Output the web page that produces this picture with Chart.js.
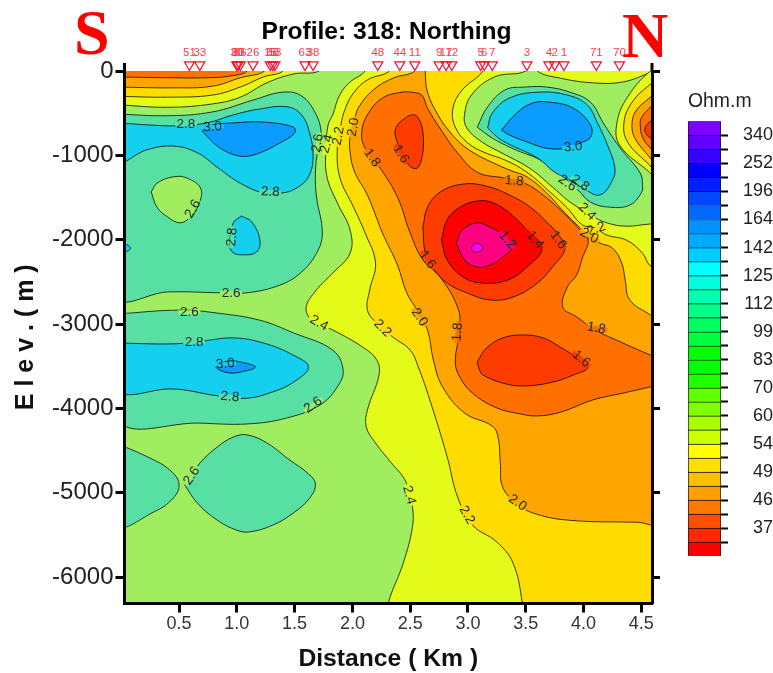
<!DOCTYPE html>
<html>
<head>
<meta charset="utf-8">
<title>Profile: 318: Northing</title>
<script src="https://cdn.jsdelivr.net/npm/chart.js@4/dist/chart.umd.min.js"></script>
<style>
html, body { margin: 0; padding: 0; background: #fff; overflow: hidden; }
#myChart { position: absolute; left: 0; top: 0; }
#scaleChart { position: absolute; left: 688px; top: 85px; }
.side { position: absolute; color: #f00; font: bold 64px/64px "Liberation Serif", serif; }
</style>
</head>
<body>
<canvas id="myChart" width="773" height="673"></canvas>
<canvas id="scaleChart" width="85" height="495"></canvas>
<div class="side" style="left:74px;top:1px">S</div>
<div class="side" style="left:622px;top:4px">N</div>
<script>
// Axis ticks
var xTicks = [0.5, 1.0, 1.5, 2.0, 2.5, 3.0, 3.5, 4.0, 4.5];
var yTicks = [0, -1000, -2000, -3000, -4000, -5000, -6000];

// Stations along the top of the section
var stationX = [0.59, 0.68, 1.00, 1.01, 1.03, 1.14, 1.29, 1.31, 1.33, 1.59, 1.66, 2.22, 2.41, 2.54, 2.75, 2.81, 2.86, 3.11, 3.14, 3.21, 3.51, 3.70, 3.75, 3.83, 4.11, 4.31];
var stationNames = ['51', '33', '30', '80', '86', '26', '15', '68', '53', '63', '38', '48', '44', '11', '9', '17', '12', '5', '6', '7', '3', '4', '2', '1', '71', '70'];

// Band colours, log10 resistivity
var c10 = '#ff00ff', c12 = '#ff0080', c14 = '#ff0000', c16 = '#ff3c00', c18 = '#ff7000', c20 = '#ffa500';
var c22 = '#ffdc00', c24 = '#e4fa18', c26 = '#a0ee60', c28 = '#58dfa4', c30 = '#15cfee', c32 = '#0a9cff';

// Contour outlines as [distance km, elevation m]
var wholeSection = [[-0.1, 100], [4.8, 100], [4.8, -6600], [-0.1, -6600]];

// left side highs
var high26Upper = [[-0.03,-510],[0.40,-530],[0.79,-485],[1.14,-345],[1.40,-250],[1.56,-295],[1.68,-500],[1.73,-735],[1.70,-935],[1.68,-1210],[1.69,-1495],[1.74,-1920],[1.69,-2160],[1.55,-2395],[1.37,-2540],[1.09,-2630],[0.88,-2630],[0.40,-2620],[-0.03,-2670]];
var high28Upper = [[-0.03,-615],[0.25,-640],[0.48,-650],[0.74,-615],[0.97,-520],[1.20,-450],[1.44,-425],[1.56,-520],[1.63,-735],[1.66,-1020],[1.62,-1255],[1.52,-1385],[1.40,-1445],[1.23,-1445],[1.03,-1330],[0.83,-1140],[0.66,-970],[0.45,-890],[0.22,-935],[-0.03,-1080]];
var high30Upper = [[0.70,-710],[0.79,-640],[0.97,-615],[1.23,-605],[1.49,-665],[1.50,-735],[1.37,-855],[1.17,-985],[1.03,-1010],[0.88,-935],[0.79,-840]];
var hole26 = [[0.26,-1435],[0.31,-1330],[0.45,-1255],[0.57,-1270],[0.69,-1400],[0.66,-1615],[0.60,-1730],[0.51,-1800],[0.40,-1730],[0.31,-1615]];
var island28 = [[1.04,-1720],[1.13,-1790],[1.20,-2005],[1.17,-2145],[1.05,-2180],[0.96,-2145],[0.94,-2040],[0.97,-1800]];
var edge28 = [[-0.03,-2030],[0.03,-2045],[0.08,-2100],[0.03,-2150],[-0.03,-2160]];
var high26Middle = [[-0.03,-2880],[0.51,-2835],[0.83,-2870],[1.20,-2955],[1.49,-3105],[1.83,-3310],[1.92,-3545],[1.87,-3745],[1.72,-3960],[1.43,-4115],[1.09,-4185],[0.68,-4175],[-0.03,-4140]];
var high28Middle = [[-0.03,-3225],[0.45,-3235],[0.71,-3200],[0.97,-3165],[1.23,-3225],[1.49,-3370],[1.62,-3510],[1.49,-3690],[1.31,-3805],[1.09,-3880],[0.85,-3855],[0.45,-3770],[-0.03,-3795]];
var high30Middle = [[0.81,-3500],[0.92,-3440],[1.03,-3450],[1.16,-3510],[1.03,-3570],[0.94,-3580],[0.85,-3545]];
var high26EdgeLow = [[-0.03,-4420],[0.25,-4590],[0.42,-4730],[0.50,-4895],[0.45,-5065],[0.28,-5230],[-0.03,-5385]];
var high26Low = [[0.55,-4910],[0.68,-4650],[0.83,-4460],[0.97,-4340],[1.09,-4315],[1.26,-4410],[1.46,-4615],[1.61,-4765],[1.68,-4895],[1.63,-5065],[1.49,-5240],[1.31,-5385],[1.11,-5465],[1.00,-5445],[0.83,-5325],[0.66,-5125]];

// shallow strip at top left
var strip24 = [[-0.03,-400],[0.40,-430],[0.79,-390],[1.03,-310],[1.26,-140],[1.49,-35],[1.71,0],[1.71,130],[-0.03,130]];
var strip22 = [[-0.03,-300],[0.40,-310],[0.79,-285],[1.03,-190],[1.23,-70],[1.40,0],[1.40,130],[-0.03,130]];
var strip20 = [[-0.03,-190],[0.45,-200],[0.79,-180],[1.03,-80],[1.24,0],[1.24,130],[-0.03,130]];
var strip18 = [[-0.03,-70],[0.40,-80],[0.74,-80],[0.94,-60],[1.09,0],[1.09,130],[-0.03,130]];

// main low
var low24 = [[2.11,130],[2.11,0],[1.98,-130],[1.89,-285],[1.83,-520],[1.79,-640],[1.77,-935],[1.78,-1255],[1.87,-1565],[1.98,-1885],[1.98,-2160],[1.83,-2395],[1.69,-2595],[1.60,-2800],[1.65,-2955],[1.83,-3070],[2.09,-3275],[2.21,-3425],[2.23,-3605],[2.13,-4020],[2.12,-4220],[2.20,-4410],[2.33,-4635],[2.44,-4815],[2.48,-4935],[2.52,-5170],[2.52,-5405],[2.44,-5835],[2.31,-6310],[2.30,-6520],[4.70,-6520],[4.70,-1815],[4.57,-1815],[4.37,-1840],[4.20,-1800],[4.06,-1710],[3.95,-1615],[3.86,-1530],[3.73,-1375],[3.53,-1150],[3.29,-970],[3.12,-840],[2.99,-675],[2.97,-520],[3.03,-285],[3.23,-70],[3.50,0],[3.50,130]];
var low22 = [[2.32,130],[2.32,0],[2.13,-105],[2.01,-260],[1.94,-440],[1.90,-640],[1.87,-900],[1.89,-1255],[2.01,-1615],[2.11,-1920],[2.20,-2275],[2.15,-2595],[2.13,-2835],[2.21,-2990],[2.35,-3155],[2.50,-3310],[2.57,-3510],[2.67,-3900],[2.82,-4575],[2.91,-5050],[3.04,-5385],[3.25,-5585],[3.39,-5835],[3.47,-6310],[3.47,-6520],[4.70,-6520],[4.70,-2420],[4.57,-2300],[4.51,-2160],[4.37,-2005],[4.20,-1945],[4.10,-1860],[3.99,-1825],[3.86,-1625],[3.71,-1435],[3.51,-1200],[3.32,-1055],[3.15,-970],[3.00,-855],[2.89,-665],[2.87,-440],[2.95,-225],[3.13,0],[3.13,130]];
var low20 = [[2.54,130],[2.54,0],[2.35,-85],[2.18,-225],[2.05,-440],[2.02,-580],[1.98,-785],[1.98,-960],[2.02,-1200],[2.13,-1470],[2.26,-1920],[2.39,-2300],[2.47,-2630],[2.56,-2835],[2.65,-3070],[2.70,-3425],[2.78,-3745],[2.97,-4055],[3.21,-4210],[3.26,-4340],[3.28,-4650],[3.30,-4935],[3.42,-5125],[3.56,-5240],[3.86,-5325],[4.46,-5350],[4.70,-5350],[4.70,-3010],[4.58,-2895],[4.40,-2715],[4.36,-2480],[4.33,-2275],[4.25,-2100],[4.14,-2040],[4.06,-1980],[3.97,-1860],[3.84,-1685],[3.68,-1445],[3.51,-1255],[3.36,-1175],[3.22,-1090],[3.08,-995],[2.95,-875],[2.83,-700],[2.74,-520],[2.65,-250],[2.63,0],[2.63,130]];
var low18 = [[2.51,-250],[2.43,-250],[2.26,-320],[2.13,-520],[2.08,-735],[2.11,-915],[2.24,-1150],[2.39,-1495],[2.50,-1920],[2.61,-2240],[2.76,-2445],[2.91,-2800],[2.93,-3045],[2.89,-3450],[2.93,-3630],[3.04,-3820],[3.25,-3995],[3.45,-4065],[3.60,-4090],[3.80,-4045],[4.08,-3900],[4.34,-3820],[4.58,-3745],[4.70,-3710],[4.70,-3440],[4.58,-3370],[4.34,-3225],[4.10,-3070],[3.94,-2915],[3.82,-2800],[3.86,-2560],[3.94,-2420],[3.99,-2215],[4.04,-2005],[3.97,-1885],[3.80,-1650],[3.65,-1470],[3.49,-1330],[3.32,-1270],[3.08,-1200],[2.91,-970],[2.78,-725],[2.65,-440],[2.60,-285]];
var low16Upper = [[2.48,-535],[2.54,-520],[2.58,-580],[2.61,-725],[2.61,-960],[2.57,-1140],[2.52,-1150],[2.47,-1080],[2.43,-970],[2.37,-760],[2.39,-640]];
var low16Middle = [[2.61,-1850],[2.65,-1615],[2.76,-1435],[2.96,-1340],[3.16,-1365],[3.36,-1470],[3.54,-1615],[3.68,-1790],[3.77,-1920],[3.84,-2100],[3.73,-2325],[3.60,-2515],[3.39,-2680],[3.19,-2715],[2.99,-2630],[2.82,-2515],[2.69,-2325],[2.63,-2160]];
var low16Lower = [[3.08,-3450],[3.16,-3285],[3.30,-3165],[3.48,-3130],[3.65,-3165],[3.80,-3275],[3.91,-3370],[4.04,-3510],[3.91,-3605],[3.73,-3690],[3.48,-3735],[3.30,-3700],[3.13,-3605],[3.10,-3545]];
var low14 = [[2.77,-2005],[2.82,-1765],[2.93,-1615],[3.09,-1540],[3.22,-1565],[3.36,-1685],[3.51,-1885],[3.64,-2100],[3.51,-2325],[3.34,-2480],[3.13,-2515],[2.96,-2445],[2.82,-2240]];
var low12 = [[2.90,-2040],[2.95,-1885],[3.08,-1800],[3.19,-1850],[3.28,-1920],[3.39,-2065],[3.30,-2205],[3.19,-2300],[3.08,-2325],[2.97,-2240]];
var low10 = [[3.03,-2085],[3.08,-2040],[3.13,-2100],[3.09,-2145],[3.04,-2135]];

// top right sliver and the low on the right edge
var sliver24 = [[3.60,130],[3.60,0],[3.80,-85],[4.08,-140],[4.34,-130],[4.59,-10],[4.70,60],[4.70,130]];
var edge24 = [[4.70,60],[4.57,-10],[4.38,-310],[4.29,-605],[4.31,-875],[4.57,-1200],[4.70,-1365]];
var edge22 = [[4.70,-50],[4.57,-165],[4.42,-370],[4.35,-605],[4.38,-840],[4.57,-1115],[4.70,-1295]];
var edge20 = [[4.70,-170],[4.57,-320],[4.46,-460],[4.42,-605],[4.44,-785],[4.57,-1020],[4.70,-1235]];
var edge18 = [[4.70,-285],[4.57,-440],[4.50,-555],[4.49,-640],[4.51,-785],[4.57,-900],[4.70,-1055]];
var edge16 = [[4.70,-500],[4.57,-605],[4.53,-700],[4.57,-785],[4.70,-890]];

// hill at top right
var hill26 = [[3.08,-665],[3.17,-425],[3.32,-225],[3.50,-190],[3.68,-190],[3.88,-250],[4.06,-370],[4.17,-615],[4.31,-900],[4.49,-1210],[4.51,-1350],[4.50,-1445],[4.40,-1590],[4.23,-1615],[4.06,-1555],[3.95,-1410],[3.67,-1090],[3.38,-915],[3.21,-795]];
var hill28 = [[3.17,-675],[3.21,-500],[3.36,-320],[3.62,-250],[3.86,-285],[4.03,-400],[4.12,-615],[4.20,-855],[4.27,-1140],[4.25,-1295],[4.14,-1470],[3.99,-1385],[3.91,-1315],[3.75,-1200],[3.60,-1030],[3.29,-820]];
var hill30 = [[3.29,-700],[3.42,-500],[3.56,-380],[3.71,-370],[3.91,-440],[4.06,-640],[4.06,-785],[3.97,-855],[3.86,-915],[3.68,-915],[3.51,-840],[3.36,-760]];

// Contour labels
var contourText = ['2.8','3.0','2.8','2.6','2.8','2.6','2.4','2.2','2.0','1.8','1.6','1.8','3.0','2.8','2.6','2.4','2.2','2.0','1.4','1.2','1.6','1.6','2.0','1.8','2.2','2.4','2.6','2.6','1.8','1.6','2.8','3.0','2.8','2.6','2.6','2.4','2.2','2.0'];
var contourX = [0.56,0.79,1.29,0.62,0.96,1.70,1.78,1.88,2.01,2.17,2.42,3.40,3.91,3.97,3.86,4.03,4.11,4.05,3.58,3.34,3.78,2.65,2.58,2.91,2.26,1.71,0.95,0.59,4.11,3.98,0.63,0.90,0.94,1.66,0.61,2.49,2.99,3.43];
var contourY = [-630,-665,-1435,-1635,-1970,-855,-865,-770,-665,-1030,-985,-1305,-900,-1330,-1330,-1670,-1875,-1955,-2005,-2005,-2005,-2240,-2920,-3095,-3050,-2990,-2630,-2860,-3050,-3415,-3215,-3475,-3865,-3960,-4800,-5030,-5265,-5120];
var contourAngle = [0,-5,3,-60,-85,-80,-75,-80,-80,55,60,5,-5,35,35,45,-20,30,50,50,55,55,55,-85,45,30,0,0,10,40,0,-5,5,-35,-55,75,60,35];

// Colour scale, top cell first
var scaleColors = ['#8000ff','#6000ff','#3800ff','#0000ff','#0020ff','#0048ff','#0068ff','#0090ff','#00aaff','#00ccff','#00ffff','#00ffdd','#00ffb0','#00ff88','#00ff60','#00ff40','#00ff00','#00ff00','#20ff00','#60ff00','#80ff00','#a8ff00','#ccff00','#ffff00','#ffdf00','#ffbf00','#ff9f00','#ff7800','#ff5000','#ff2800','#ff0000'];
var scaleLabels = ['340','252','196','164','142','125','112','99','83','70','60','54','49','46','37'];

var sans = '"Liberation Sans", Arial, sans-serif';
var xMin = 0.0285, xMax = 4.592, yMin = -6314, yMax = 0;
var stationElev = 75;     // marker centre sits just above the section
var stationLabelElev = 213;
var axisTopElev = 95;

// Painter order, first one ends up at the bottom
var bands = [
    [wholeSection, c26, false],
    [high26Upper, c28], [high28Upper, c30], [high30Upper, c32], [hole26, c26], [island28, c30], [edge28, c30],
    [high26Middle, c28], [high28Middle, c30], [high30Middle, c32], [high26EdgeLow, c28], [high26Low, c28],
    [strip24, c24], [low24, c24], [sliver24, c24], [edge24, c24],
    [strip22, c22], [low22, c22], [edge22, c22],
    [strip20, c20], [low20, c20], [edge20, c20],
    [strip18, c18], [low18, c18], [edge18, c18],
    [low16Upper, c16], [low16Middle, c16], [low16Lower, c16], [edge16, c16],
    [low14, c14], [low12, c12], [low10, c10],
    [hill26, c28], [hill28, c30], [hill30, c32]
];

var datasets = bands.map(function (band, i) {
    var pts = band[0].map(function (p) { return { x: p[0], y: p[1] }; });
    pts.push(pts[0]);
    return {
        data: pts,
        showLine: true,
        fill: 'shape',
        backgroundColor: band[1],
        borderColor: band[2] === false ? 'transparent' : 'rgba(0,0,0,0.75)',
        borderWidth: band[2] === false ? 0 : 1,
        tension: 0.4,
        pointRadius: 0,
        order: bands.length + 1 - i
    };
});

// Stations
datasets.push({
    data: stationX.map(function (x) { return { x: x, y: stationElev }; }),
    showLine: false,
    pointStyle: 'triangle',
    pointRotation: 180,
    pointRadius: 5.8,
    pointBackgroundColor: 'rgba(0,0,0,0)',
    pointBorderColor: '#ff0a20',
    pointBorderWidth: 1.2,
    clip: false,
    order: 0
});

var gapColors = { '1.2': c12, '1.4': c14, '1.6': c16, '1.8': c18, '2.0': c20, '2.2': c22, '2.4': c24, '2.6': c26, '2.8': c28, '3.0': c30 };

// Text sitting on the contours and above the stations
var sectionText = {
    id: 'sectionText',
    afterDatasetsDraw: function (chart) {
        var c = chart.ctx, sx = chart.scales.x, sy = chart.scales.y;
        c.save();
        c.textAlign = 'center';
        c.textBaseline = 'middle';
        c.font = '13.5px ' + sans;
        contourText.forEach(function (t, i) {
            c.save();
            c.translate(sx.getPixelForValue(contourX[i]), sy.getPixelForValue(contourY[i]));
            c.rotate(contourAngle[i] * Math.PI / 180);
            c.fillStyle = gapColors[t];
            c.fillRect(-11, -2, 22, 4);
            c.fillStyle = '#1c2a2a';
            c.fillText(t, 0, 0);
            c.restore();
        });
        c.font = '11.5px ' + sans;
        c.fillStyle = '#ff3a4c';
        stationNames.forEach(function (t, i) {
            c.fillText(t, sx.getPixelForValue(stationX[i]), sy.getPixelForValue(stationLabelElev));
        });
        // the side axes stand a little above elevation 0
        c.strokeStyle = '#000';
        c.lineWidth = 3;
        c.beginPath();
        [sx.left, sx.right].forEach(function (x) {
            c.moveTo(x, sy.getPixelForValue(0));
            c.lineTo(x, sy.getPixelForValue(axisTopElev));
        });
        c.stroke();
        c.restore();
    }
};

function setTicks(values) {
    return function (scale) {
        scale.ticks = values.map(function (v) { return { value: v }; });
    };
}

var tickGrid = { drawOnChartArea: false, color: '#000', tickColor: '#000', tickLength: 9, tickWidth: 3 };
var axisBorder = { display: true, color: '#000', width: 3, z: 2 };

var myChart = new Chart(document.getElementById('myChart').getContext('2d'), {
    type: 'scatter',
    data: { datasets: datasets },
    plugins: [sectionText],
    options: {
        responsive: false,
        animation: false,
        events: [],
        layout: { padding: 0 },
        plugins: {
            legend: { display: false },
            tooltip: { enabled: false },
            title: {
                display: true,
                text: 'Profile: 318: Northing',
                color: '#000',
                font: { family: sans, size: 24.6, weight: 'bold', lineHeight: 1.2 },
                padding: { top: 17, bottom: 24.5 }
            }
        },
        scales: {
            x: {
                type: 'linear',
                min: xMin,
                max: xMax,
                afterBuildTicks: setTicks(xTicks),
                afterFit: function (s) { s.height = 69.5; },
                grid: tickGrid,
                border: axisBorder,
                ticks: {
                    autoSkip: false,
                    maxRotation: 0,
                    padding: 1,
                    color: '#333',
                    font: { family: sans, size: 18 },
                    callback: function (v) { return v.toFixed(1); }
                },
                title: {
                    display: true,
                    text: 'Distance ( Km )',
                    color: '#111',
                    font: { family: sans, size: 24.7, weight: 'bold', lineHeight: 1.1 },
                    padding: { top: 0, bottom: 0 }
                }
            },
            y: {
                type: 'linear',
                position: 'left',
                min: yMin,
                max: yMax,
                afterBuildTicks: setTicks(yTicks),
                afterFit: function (s) { s.width = 124.5; },
                grid: tickGrid,
                border: axisBorder,
                ticks: {
                    autoSkip: false,
                    padding: 2,
                    color: '#222',
                    font: { family: sans, size: 24 },
                    callback: function (v) { return String(v); }
                },
                title: {
                    display: true,
                    text: 'E l e v . ( m )',
                    color: '#111',
                    font: { family: sans, size: 25, weight: 'bold' },
                    padding: { top: 11, bottom: 0 }
                }
            },
            yRight: {
                type: 'linear',
                position: 'right',
                min: yMin,
                max: yMax,
                afterBuildTicks: setTicks(yTicks),
                afterFit: function (s) { s.width = 121; },
                grid: { drawOnChartArea: false, color: '#000', tickColor: '#000', tickLength: 8, tickWidth: 3 },
                border: axisBorder,
                ticks: { display: false }
            }
        }
    }
});

// Colour scale: one stacked bar, one cell per colour
var scaleTicks = scaleColors.slice(1).map(function (c, i) { return i + 1; });

var scaleChart = new Chart(document.getElementById('scaleChart').getContext('2d'), {
    type: 'bar',
    data: {
        labels: [''],
        datasets: scaleColors.map(function (color) {
            return { data: [1], backgroundColor: color, borderColor: '#111', borderWidth: 1, barPercentage: 1, categoryPercentage: 1 };
        }).reverse()
    },
    options: {
        responsive: false,
        animation: false,
        events: [],
        layout: { padding: { bottom: 14 } },
        plugins: {
            legend: { display: false },
            tooltip: { enabled: false },
            title: {
                display: true,
                text: 'Ohm.m',
                align: 'start',
                color: '#222',
                font: { family: sans, size: 19.4, weight: 'normal' },
                padding: { top: 5, bottom: 8 }
            }
        },
        scales: {
            x: { stacked: true, display: false },
            y: {
                stacked: true,
                position: 'right',
                min: 0,
                max: scaleColors.length,
                afterBuildTicks: setTicks(scaleTicks),
                afterFit: function (s) { s.width = 52; },
                grid: { drawOnChartArea: false, tickColor: '#000', tickLength: 7, tickWidth: 2 },
                border: { display: false },
                ticks: {
                    autoSkip: false,
                    padding: 13,
                    crossAlign: 'far',
                    color: '#222',
                    font: { family: sans, size: 18 },
                    callback: function (v) {
                        // every second cell edge has a label, 340 at the top
                        var n = scaleColors.length - 1 - v;
                        return n % 2 === 0 ? scaleLabels[n / 2] : '';
                    }
                }
            }
        }
    }
});
</script>
</body>
</html>
